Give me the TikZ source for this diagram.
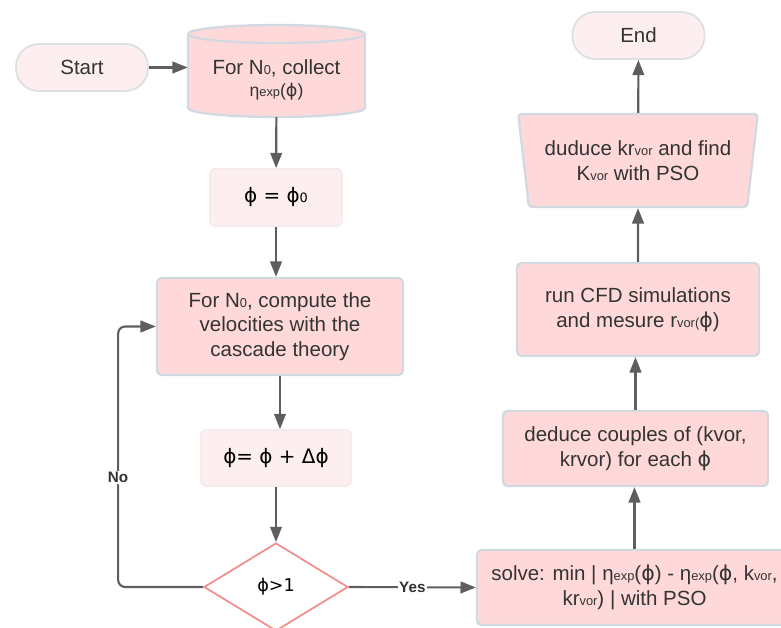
\documentclass[tikz,border=0pt]{standalone}
\usepackage{fontspec}
\setmainfont{Liberation Sans}
\newfontfamily\phifont{DejaVu Sans}
\usetikzlibrary{arrows.meta,shapes.geometric}

\definecolor{boxpink}{HTML}{FFD9DA}
\definecolor{boxline}{HTML}{D3D9E1}
\definecolor{palepink}{HTML}{FDEFEF}
\definecolor{paleline}{HTML}{F6EAEA}
\definecolor{termline}{HTML}{DEDFE4}
\definecolor{diaedge}{HTML}{F38E8E}
\definecolor{arrowgray}{HTML}{5E5E5E}
\definecolor{txt}{HTML}{333333}

\newcommand\sbs[1]{{\fontsize{11}{11}\selectfont #1}}
\newcommand\fy{{\phifont ϕ}}

\begin{document}
\begin{tikzpicture}[x=0.03cm, y=-0.03cm, font=\fontsize{17.5}{21}\selectfont, text=txt,
  term/.style={draw=termline, fill=palepink, line width=1.5pt, rounded corners=0.68cm, minimum width=3.96cm, minimum height=1.41cm},
  process/.style={draw=boxline, fill=boxpink, line width=2pt, rounded corners=4pt, align=center, inner sep=0pt},
  assign/.style={draw=paleline, fill=palepink, line width=1.5pt, rounded corners=4pt, text=black, font=\phifont\fontsize{17}{21}\selectfont},
  arr/.style={draw=arrowgray, line width=1.8pt, -{Triangle[length=0.46cm, width=0.35cm]}},
  lbl/.style={fill=white, font=\bfseries\fontsize{13}{13}\selectfont, text=txt, inner sep=1pt}]

\useasboundingbox (0,0) rectangle (781,628);

% left column
\node [term] (start) at (82,67.5) {Start};

\draw [draw=boxline, fill=boxpink, line width=2pt] (188,34) -- (188,108) arc[start angle=180, end angle=0, x radius=88.5, y radius=9] -- (365,34) arc[start angle=0, end angle=-180, x radius=88.5, y radius=9] -- cycle;
\draw [draw=boxline, line width=2pt] (188,34) arc[start angle=180, end angle=0, x radius=88.5, y radius=9];
\node [align=center, inner sep=0pt, minimum width=5.31cm, minimum height=2.22cm] (collect) at (276.5,80) {For N\sbs{0}, collect\\[-2pt]{\fontsize{15}{18}\selectfont η\sbs{exp}(\fy)}};

\node [assign, minimum width=3.96cm, minimum height=1.71cm] (phizero) at (276,197.5) {ϕ = ϕ\sbs{0}};
\node [process, minimum width=7.38cm, minimum height=2.91cm] (comp) at (280,326.5) {For N\sbs{0}, compute the\\velocities with the\\cascade theory};
\node [assign, minimum width=4.5cm, minimum height=1.68cm] (dphi) at (276,458) {ϕ= ϕ + Δϕ};
\node [diamond, draw=diaedge, fill=white, line width=1.5pt, aspect=1.64, inner sep=0pt, minimum width=4.32cm, minimum height=2.64cm, text=black, font=\phifont\fontsize{15}{18}\selectfont] (test) at (276,587) {ϕ>1};

% right column
\node [process, minimum width=9.45cm, minimum height=2.25cm] (solve) at (634.5,587.5) {solve: min | η\sbs{exp}(\fy) - η\sbs{exp}(\fy, k\sbs{vor},\\kr\sbs{vor}) | with PSO};
\node [process, minimum width=7.95cm, minimum height=2.25cm] (couples) at (635.5,448.5) {deduce couples of (kvor,\\krvor) for each \fy};
\node [process, minimum width=7.26cm, minimum height=2.79cm] (cfd) at (638,309.5) {run CFD simulations\\and mesure r\sbs{vor(}\fy)};
\node [trapezium, trapezium angle=77, shape border rotate=180, trapezium stretches=true, draw=boxline, fill=boxpink, line width=2pt, rounded corners=3pt, align=center, inner sep=0pt, minimum width=7.2cm, minimum height=2.79cm] (kfind) at (638,160.5) {duduce kr\sbs{vor} and find\\K\sbs{vor} with PSO};
\node [term] (end) at (638.5,35.5) {End};

% connectors
\draw [arr] (start) -- (start -| collect.west);
\draw [arr] (collect) -- (phizero);
\draw [arr] (phizero) -- (phizero |- comp.north);
\draw [arr] (comp) -- (comp |- dphi.north);
\draw [arr] (dphi) -- (test);
\draw [arr, rounded corners=6pt] (test.west) -- ++(-85,0) |- node [lbl, pos=.21] {No} (comp.west);
\draw [arr] (test.east) -- node [lbl] {Yes} (solve.west);
\draw [arr] (solve) -- (solve |- couples.south);
\draw [arr] (couples) -- (couples |- cfd.south);
\draw [arr] (cfd) -- (kfind);
\draw [arr] (kfind) -- (end);

\end{tikzpicture}
\end{document}
